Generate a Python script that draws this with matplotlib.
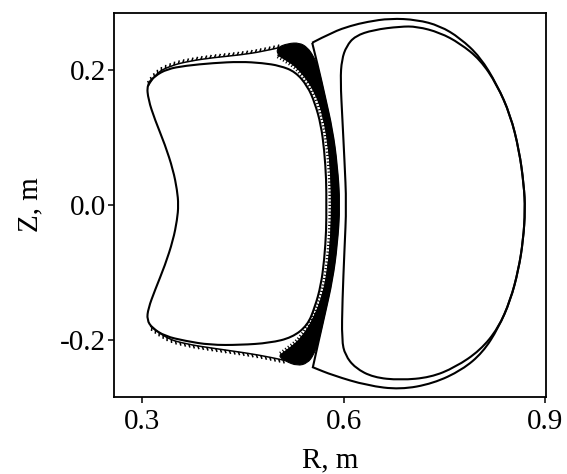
import numpy as np
import matplotlib
matplotlib.use("Agg")
import matplotlib.pyplot as plt
from matplotlib import patheffects
from matplotlib.path import Path
from matplotlib.patches import PathPatch

plt.rcParams['font.family'] = ['Liberation Serif', 'DejaVu Serif']
plt.rcParams['axes.unicode_minus'] = False

# left plasma, innermost closed surface (R, Z in m)
left_r = [0.307, 0.319, 0.337, 0.364, 0.406, 0.446, 0.479, 0.505, 0.528, 0.546,
          0.557, 0.566, 0.571, 0.574, 0.574, 0.574, 0.571, 0.566, 0.557, 0.546,
          0.523, 0.490, 0.446, 0.401, 0.364, 0.334, 0.315, 0.307, 0.309, 0.319,
          0.334, 0.346, 0.352, 0.354, 0.352, 0.346, 0.334, 0.319, 0.309]
left_z = [0.178, 0.191, 0.201, 0.206, 0.210, 0.212, 0.210, 0.206, 0.197, 0.176,
          0.151, 0.119, 0.081, 0.037, 0.0, -0.037, -0.081, -0.119, -0.151, -0.178,
          -0.196, -0.204, -0.207, -0.207, -0.201, -0.194, -0.182, -0.170, -0.153, -0.126,
          -0.089, -0.052, -0.022, 0.0, 0.022, 0.052, 0.089, 0.126, 0.156]

# rippled field lines along top and bottom of the left plasma
wave_top_r = [0.309, 0.319, 0.342, 0.371, 0.406, 0.446, 0.479, 0.505]
wave_top_z = [0.176, 0.194, 0.206, 0.213, 0.218, 0.222, 0.227, 0.233]
wave_bot_r = [0.312, 0.334, 0.367, 0.406, 0.456, 0.490, 0.513]
wave_bot_z = [-0.179, -0.197, -0.206, -0.212, -0.219, -0.225, -0.230]

# stochastic layer on the outboard side of the left plasma
band_out_r = [0.501, 0.517, 0.534, 0.546, 0.555, 0.562, 0.572, 0.583, 0.590, 0.594,
              0.590, 0.583, 0.572, 0.562, 0.555, 0.546, 0.531, 0.513, 0.505]
band_out_z = [0.233, 0.239, 0.240, 0.233, 0.220, 0.204, 0.160, 0.111, 0.059, 0.0,
              -0.059, -0.111, -0.160, -0.204, -0.222, -0.234, -0.238, -0.231, -0.225]
band_in_r = [0.505, 0.520, 0.538, 0.556, 0.570, 0.577, 0.581, 0.582, 0.581, 0.577,
             0.570, 0.558, 0.538, 0.520, 0.501]
band_in_z = [-0.222, -0.212, -0.196, -0.167, -0.130, -0.089, -0.044, 0.0, 0.044, 0.089,
             0.130, 0.167, 0.196, 0.212, 0.222]

# right plasma, outer surface with its two corners facing the left plasma
right_out_r = [0.553, 0.584, 0.610, 0.635, 0.669, 0.709, 0.743, 0.773, 0.803, 0.828,
               0.848, 0.861, 0.868, 0.870, 0.867, 0.860, 0.848, 0.830, 0.807, 0.776,
               0.733, 0.684, 0.635, 0.584, 0.554, 0.554, 0.562, 0.572, 0.583, 0.590, 0.594,
               0.590, 0.583, 0.572, 0.562, 0.553]
right_out_z = [0.240, 0.256, 0.265, 0.271, 0.276, 0.274, 0.265, 0.247, 0.219, 0.178,
               0.133, 0.081, 0.030, -0.007, -0.052, -0.096, -0.141, -0.182, -0.218, -0.244,
               -0.264, -0.273, -0.267, -0.252, -0.240, -0.240, -0.204, -0.160, -0.111, -0.059, 0.0,
               0.059, 0.111, 0.160, 0.204, 0.240]

# right plasma, inner closed surface
right_in_r = [0.684, 0.709, 0.743, 0.773, 0.803, 0.828, 0.848, 0.861, 0.868, 0.870,
              0.867, 0.860, 0.848, 0.830, 0.803, 0.766, 0.729, 0.684, 0.644, 0.617,
              0.602, 0.597, 0.598, 0.601, 0.604, 0.601, 0.598, 0.595, 0.597, 0.604,
              0.617, 0.644]
right_in_z = [0.264, 0.264, 0.255, 0.239, 0.215, 0.178, 0.133, 0.081, 0.030, -0.007,
              -0.052, -0.096, -0.141, -0.182, -0.215, -0.240, -0.255, -0.259, -0.255, -0.241,
              -0.222, -0.200, -0.141, -0.067, 0.0, 0.067, 0.126, 0.185, 0.215, 0.235,
              0.250, 0.259]


def smooth(r, z, closed=False):
    # quadratic Bezier through the midpoints of the control polygon
    p = np.column_stack([r, z])
    if closed:
        p = np.vstack([p, p[:2]])
        verts = [(p[0] + p[1]) / 2]
        codes = [Path.MOVETO]
        for i in range(1, len(p) - 1):
            verts += [p[i], (p[i] + p[i + 1]) / 2]
            codes += [Path.CURVE3, Path.CURVE3]
        verts.append(verts[0])
        codes.append(Path.CLOSEPOLY)
    else:
        verts = [p[0]]
        codes = [Path.MOVETO]
        for i in range(1, len(p) - 2):
            verts += [p[i], (p[i] + p[i + 1]) / 2]
            codes += [Path.CURVE3, Path.CURVE3]
        verts += [p[-2], p[-1]]
        codes += [Path.CURVE3, Path.CURVE3]
    return Path(verts, codes)


fig = plt.figure(figsize=(5.67, 4.74), dpi=100)
ax = fig.add_axes([0.201, 0.1624, 0.762, 0.8102])

lw = 1.5
ax.add_patch(PathPatch(smooth(left_r, left_z, closed=True), fill=False, lw=lw))
ax.add_patch(PathPatch(smooth(right_out_r, right_out_z), fill=False, lw=lw))
ax.add_patch(PathPatch(smooth(right_in_r, right_in_z, closed=True), fill=False, lw=lw))

ripple_up = [patheffects.withTickedStroke(spacing=3.2, angle=60, length=0.8)]
ripple_dn = [patheffects.withTickedStroke(spacing=3.2, angle=-60, length=0.8)]
ax.add_patch(PathPatch(smooth(wave_top_r, wave_top_z), fill=False, lw=1.1,
                       path_effects=ripple_up))
ax.add_patch(PathPatch(smooth(wave_bot_r, wave_bot_z), fill=False, lw=1.1,
                       path_effects=ripple_dn))

ax.add_patch(PathPatch(smooth(band_out_r + band_in_r, band_out_z + band_in_z, closed=True),
                       facecolor='black', edgecolor='black', lw=0.8))
teeth = [patheffects.withTickedStroke(spacing=2.4, angle=90, length=0.9)]
ax.add_patch(PathPatch(smooth(band_in_r, band_in_z), fill=False, lw=0.8,
                       path_effects=teeth))

ax.set_xlim(0.258, 0.901)
ax.set_ylim(-0.284, 0.284)
ax.set_xticks([0.3, 0.6, 0.9])
ax.set_yticks([-0.2, 0.0, 0.2])
ax.xaxis.set_major_formatter(matplotlib.ticker.FormatStrFormatter('%.1f'))
ax.yaxis.set_major_formatter(matplotlib.ticker.FormatStrFormatter('%.1f'))
ax.tick_params(direction='out', length=4.5, width=1.1, labelsize=21)
ax.tick_params(axis='y', pad=1)
ax.tick_params(axis='x', pad=4)
for s in ax.spines.values():
    s.set_linewidth(1.3)
ax.set_xlabel('R, m', fontsize=21, labelpad=9)
ax.set_ylabel('Z, m', fontsize=21, labelpad=12)

plt.savefig('out.png', dpi=100)
